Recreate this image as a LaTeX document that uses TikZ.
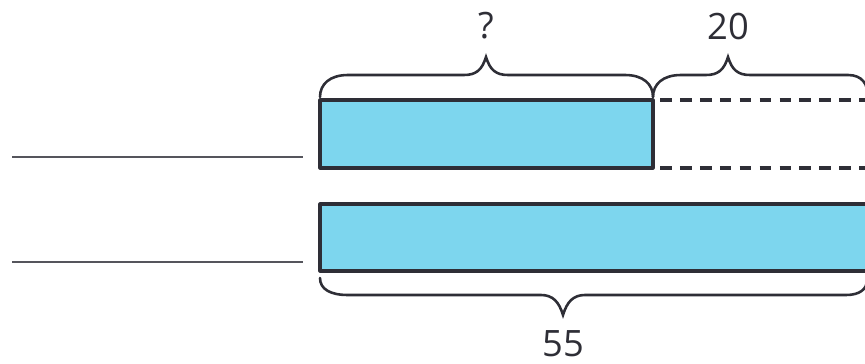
\documentclass[tikz,border=0pt]{standalone}
\usepackage{fontspec}
\setmainfont{Open Sans}
\usepackage{tikz}
\usetikzlibrary{positioning}

\definecolor{barblue}{HTML}{7DD6EE}
\definecolor{inkgray}{HTML}{2E2E36}
\definecolor{linegray}{HTML}{55555C}

\begin{document}
\begin{tikzpicture}[x=0.03cm, y=-0.03cm,
		bar/.style={draw=inkgray, fill=barblue, line width=2.6pt, line join=round},
		dashline/.style={draw=inkgray, line width=2.6pt, dash pattern=on 10pt off 7pt},
		blank/.style={draw=linegray, line width=1.6pt},
		brace/.style={draw=inkgray, line width=2.2pt, line cap=round},
		label/.style={text=inkgray, font=\fontsize{31}{36}\selectfont, inner sep=0pt}]
		
		\useasboundingbox (0,0) rectangle (865,364);
		\clip (0,0) rectangle (865,364);
		
		% Corner points
		\coordinate (topA) at (320,100);
		\coordinate (topB) at (653,168);
		\coordinate (botA) at (320,204);
		\coordinate (botB) at (880,271);
		
		% Blanks on the left
		\coordinate (blank1a) at (12,157);
		\coordinate (blank1b) at (303,157);
		\coordinate (blank2a) at (12,262);
		\coordinate (blank2b) at (303,262);
		\draw[blank] (blank1a) -- (blank1b);
		\draw[blank] (blank2a) -- (blank2b);
		
		% Bars
		\draw[bar] (topA) rectangle (topB);
		\draw[bar] (botA) rectangle (botB);
		
		% Missing part
		\coordinate (dash1a) at (660,100);
		\coordinate (dash1b) at (880,100);
		\coordinate (dash2a) at (660,168);
		\coordinate (dash2b) at (880,168);
		\draw[dashline] (dash1a) -- (dash1b);
		\draw[dashline] (dash2a) -- (dash2b);
		
		% Braces
		\draw[brace] (320,97) .. controls (320,84) and (330,75) .. (348,75) -- (464,75)
			.. controls (476,75) and (482,70) .. (486,57) .. controls (490,70) and (496,75) .. (508,75)
			-- (625,75) .. controls (643,75) and (653,84) .. (653,97);
		\draw[brace] (653,97) .. controls (653,84) and (663,75) .. (681,75) -- (706,75)
			.. controls (718,75) and (724,70) .. (728,57) .. controls (732,70) and (738,75) .. (750,75)
			-- (848,75) .. controls (862,75) and (868,84) .. (868,97);
		\draw[brace] (320,278) .. controls (320,289) and (330,295) .. (348,295) -- (541,295)
			.. controls (553,295) and (559,302) .. (563,315) .. controls (567,302) and (573,295) .. (585,295)
			-- (846,295) .. controls (860,295) and (867,289) .. (867,280);
		
		% Labels
		\node[label] (partq) at (486,26) {?};
		\node[label] (part20) at (728,27) {20};
		\node[label] (whole) at (563,344) {55};
		
	\end{tikzpicture}
\end{document}
